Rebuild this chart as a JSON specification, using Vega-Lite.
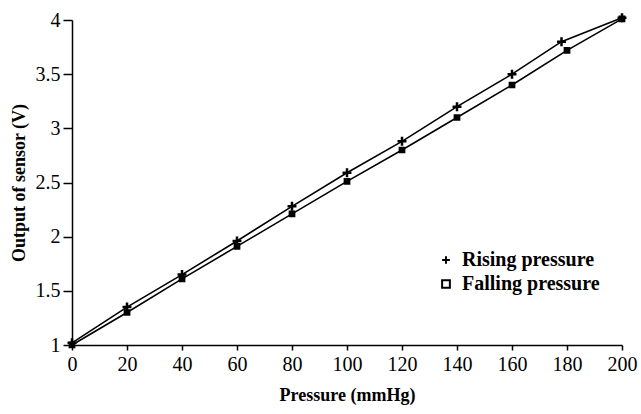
{
  "$schema": "https://vega.github.io/schema/vega-lite/v6.json",
  "width": 550,
  "height": 325,
  "autosize": {"type": "none"},
  "padding": {"left": 72, "top": 20, "right": 19, "bottom": 69},
  "background": "white",
  "config": {
    "view": {"stroke": null},
    "font": "Liberation Serif",
    "axis": {
      "grid": false,
      "domainColor": "black",
      "domainWidth": 1.5,
      "tickColor": "black",
      "tickWidth": 1.5,
      "labelColor": "black",
      "labelFont": "Liberation Serif",
      "labelFontSize": 20,
      "titleFont": "Liberation Serif",
      "titleFontSize": 18,
      "titleFontWeight": "bold",
      "titleColor": "black"
    }
  },
  "data": {
    "values": [
      {"pressure": 0, "output": 1.02, "series": "Rising pressure"},
      {"pressure": 20, "output": 1.35, "series": "Rising pressure"},
      {"pressure": 40, "output": 1.65, "series": "Rising pressure"},
      {"pressure": 60, "output": 1.96, "series": "Rising pressure"},
      {"pressure": 80, "output": 2.28, "series": "Rising pressure"},
      {"pressure": 100, "output": 2.59, "series": "Rising pressure"},
      {"pressure": 120, "output": 2.88, "series": "Rising pressure"},
      {"pressure": 140, "output": 3.2, "series": "Rising pressure"},
      {"pressure": 160, "output": 3.5, "series": "Rising pressure"},
      {"pressure": 178, "output": 3.8, "series": "Rising pressure"},
      {"pressure": 200, "output": 4.02, "series": "Rising pressure"},
      {"pressure": 0, "output": 1.0, "series": "Falling pressure"},
      {"pressure": 20, "output": 1.3, "series": "Falling pressure"},
      {"pressure": 40, "output": 1.61, "series": "Falling pressure"},
      {"pressure": 60, "output": 1.91, "series": "Falling pressure"},
      {"pressure": 80, "output": 2.21, "series": "Falling pressure"},
      {"pressure": 100, "output": 2.51, "series": "Falling pressure"},
      {"pressure": 120, "output": 2.8, "series": "Falling pressure"},
      {"pressure": 140, "output": 3.1, "series": "Falling pressure"},
      {"pressure": 160, "output": 3.4, "series": "Falling pressure"},
      {"pressure": 180, "output": 3.72, "series": "Falling pressure"},
      {"pressure": 200, "output": 4.01, "series": "Falling pressure"}
    ]
  },
  "encoding": {
    "x": {
      "field": "pressure",
      "type": "quantitative",
      "scale": {"domain": [0, 200], "nice": false, "zero": false},
      "axis": {
        "title": "Pressure (mmHg)",
        "values": [0, 20, 40, 60, 80, 100, 120, 140, 160, 180, 200],
        "tickSize": 5,
        "labelPadding": 4,
        "titlePadding": 12,
        "labelFlush": false
      }
    },
    "y": {
      "field": "output",
      "type": "quantitative",
      "scale": {"domain": [1, 4], "nice": false, "zero": false},
      "axis": {
        "title": "Output of sensor (V)",
        "values": [1, 1.5, 2, 2.5, 3, 3.5, 4],
        "labelExpr": "'' + datum.value",
        "tickSize": 9,
        "labelPadding": 3,
        "titlePadding": 7,
        "labelFlush": false
      }
    },
    "shape": {
      "field": "series",
      "type": "nominal",
      "scale": {
        "domain": ["Rising pressure", "Falling pressure"],
        "range": ["M-1,0L1,0M0,-1L0,1", "square"]
      },
      "legend": {
        "title": null,
        "orient": "none",
        "legendX": 364,
        "legendY": 230,
        "labelFont": "Liberation Serif",
        "labelFontSize": 20,
        "labelFontWeight": "bold",
        "labelColor": "black",
        "symbolSize": 60,
        "symbolStrokeWidth": 2,
        "symbolStrokeColor": "black",
        "symbolFillColor": "white",
        "rowPadding": 4,
        "labelOffset": 6
      }
    }
  },
  "layer": [
    {
      "mark": {"type": "line", "color": "black", "strokeWidth": 1.6},
      "encoding": {"detail": {"field": "series"}, "shape": null}
    },
    {
      "transform": [{"filter": "datum.series == 'Falling pressure'"}],
      "mark": {"type": "point", "filled": false, "opacity": 1, "color": "black", "strokeWidth": 3, "size": 14}
    },
    {
      "transform": [{"filter": "datum.series == 'Rising pressure'"}],
      "mark": {"type": "point", "filled": false, "opacity": 1, "color": "black", "strokeWidth": 2.5, "size": 80}
    }
  ]
}
